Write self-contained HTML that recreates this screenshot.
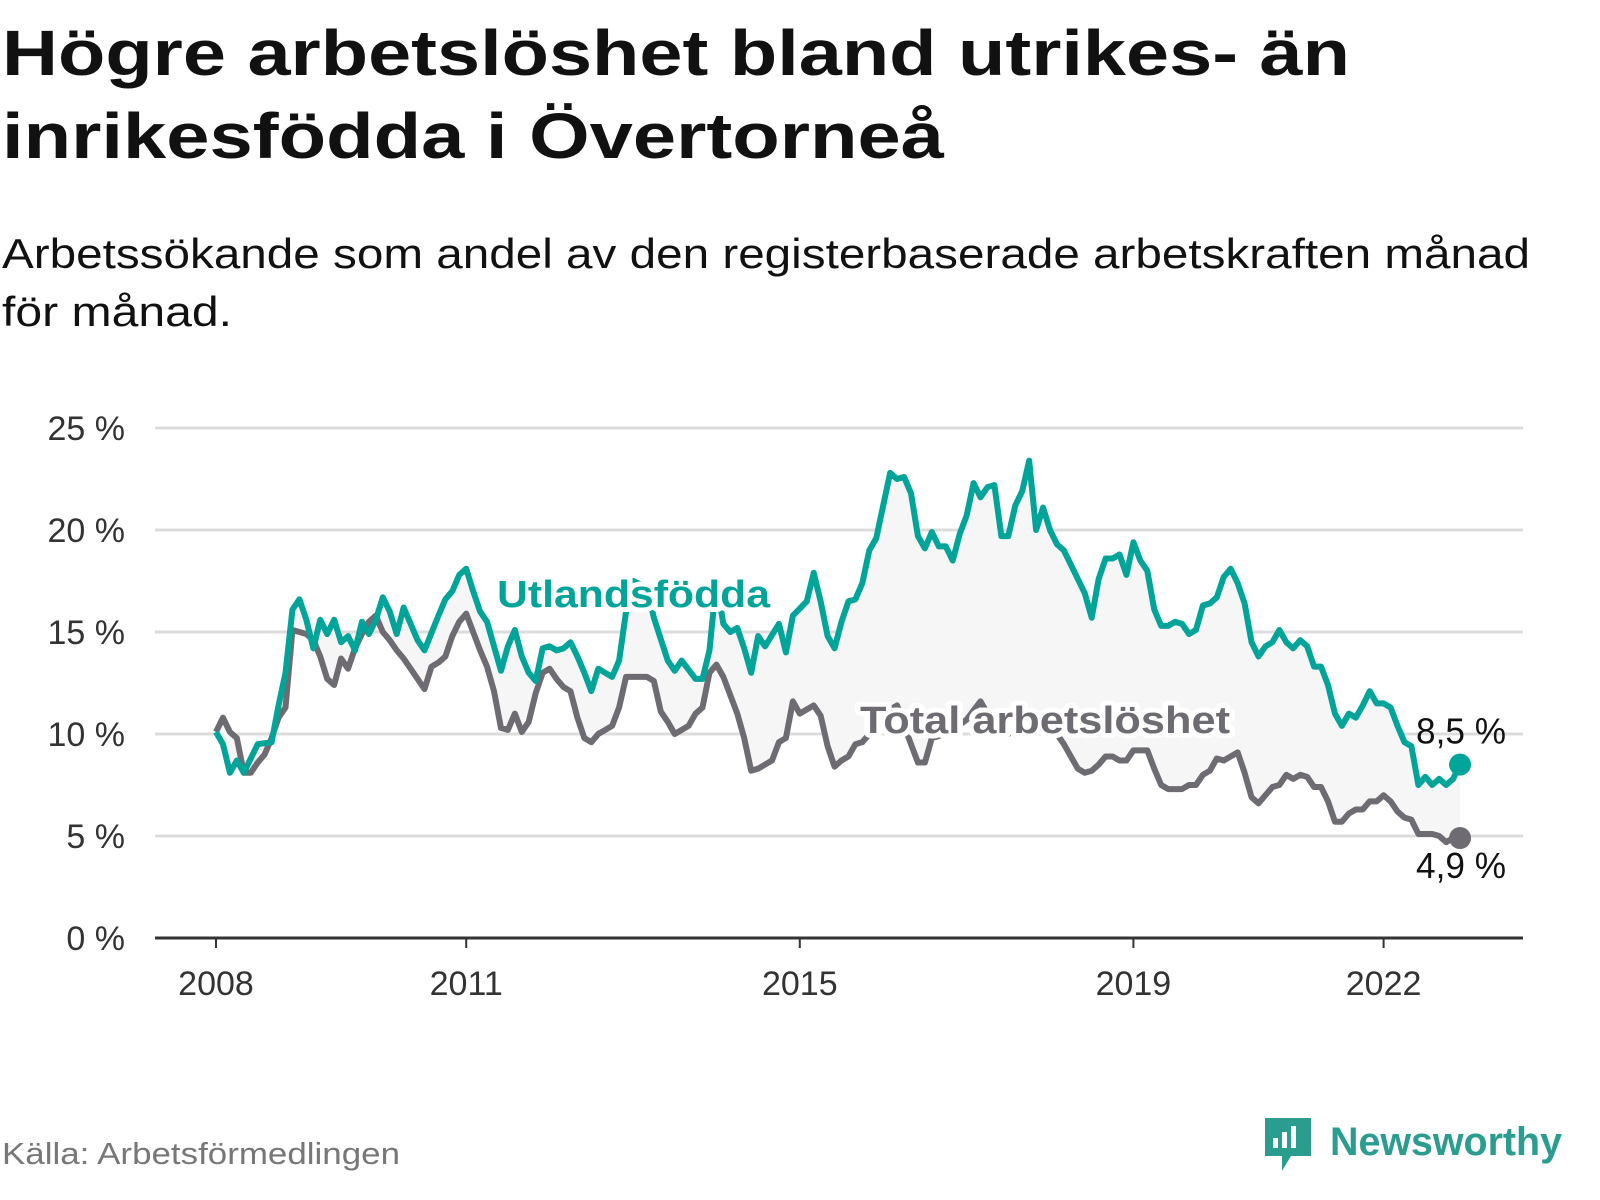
<!DOCTYPE html>
<html><head><meta charset="utf-8">
<style>
body{margin:0;width:1600px;height:1200px;background:#fff;font-family:"Liberation Sans",sans-serif;overflow:hidden;position:relative}
</style></head><body>
<svg id="chart" width="1600" height="1200" style="position:absolute;left:0;top:0" font-family="Liberation Sans, sans-serif">
<text x="2" y="75" font-size="64" font-weight="bold" fill="#111" textLength="1348" lengthAdjust="spacingAndGlyphs">Högre arbetslöshet bland utrikes- än</text>
<text x="2" y="158" font-size="64" font-weight="bold" fill="#111" textLength="942" lengthAdjust="spacingAndGlyphs">inrikesfödda i Övertorneå</text>
<text x="2" y="268" font-size="42" fill="#111" textLength="1528" lengthAdjust="spacingAndGlyphs">Arbetssökande som andel av den registerbaserade arbetskraften månad</text>
<text x="2" y="326" font-size="42" fill="#111" textLength="230" lengthAdjust="spacingAndGlyphs">för månad.</text>
<text x="2" y="1164" font-size="31" fill="#777" textLength="398" lengthAdjust="spacingAndGlyphs">Källa: Arbetsförmedlingen</text>
<g>
<path d="M1265 1118h46v38h-20l-9 15v-15h-17z" fill="#2a9d8f"/>
<rect x="1273" y="1138" width="5" height="10" fill="#fff"/><rect x="1282" y="1132" width="5" height="16" fill="#fff"/><rect x="1291" y="1126" width="5" height="22" fill="#fff"/>
<text x="1330" y="1155" font-size="40" font-weight="bold" fill="#2a9d8f" textLength="232" lengthAdjust="spacingAndGlyphs">Newsworthy</text>
</g>
</svg>
<script>
const yTicks=[0,5,10,15,20,25];
const xTickYears=[2008,2011,2015,2019,2022];
const utlMonths=[0,1,2,3,4,6,8,9,10,11,12,13,14,15,16,17,18,19,20,21,22,23,24,25,26,27,28,29,30,32,33,34,35,36,37,38,39,41,42,43,44,45,46,47,48,49,50,51,52,53,54,55,56,57,58,59,60,62,63,65,66,67,69,70,71,72,73,74,75,76,77,78,79,81,82,83,85,86,87,88,89,90,91,92,93,94,95,96,97,98,99,100,101,102,103,104,105,106,107,108,109,110,111,112,113,114,115,116,117,118,119,120,121,122,123,125,126,127,128,129,130,131,132,133,134,135,136,137,138,139,140,141,142,143,144,145,146,147,148,149,150,151,152,153,154,155,156,157,158,159,160,161,162,163,164,165,166,167,168,169,170,171,172,173,174,175,176,177,178,179];
const utlValues=[10.1,9.5,8.1,8.7,8.1,9.5,9.6,11.4,13.0,16.1,16.6,15.6,14.2,15.6,14.9,15.6,14.5,14.8,14.1,15.5,14.9,15.6,16.7,16.0,14.9,16.2,15.4,14.6,14.1,15.8,16.6,17.0,17.8,18.1,17.0,16.0,15.5,13.1,14.3,15.1,13.8,13.0,12.6,14.2,14.3,14.1,14.2,14.5,13.8,13.0,12.1,13.2,13.0,12.8,13.6,16.0,17.5,17.2,15.7,13.6,13.1,13.6,12.7,12.7,14.1,17.5,15.4,15.0,15.2,14.2,13.0,14.8,14.3,15.4,14.0,15.8,16.5,17.9,16.5,14.8,14.2,15.5,16.5,16.6,17.4,19.0,19.6,21.2,22.8,22.5,22.6,21.8,19.7,19.1,19.9,19.2,19.2,18.5,19.8,20.7,22.3,21.6,22.1,22.2,19.7,19.7,21.2,21.9,23.4,20.0,21.1,20.0,19.3,19.0,18.3,16.9,15.7,17.6,18.6,18.6,18.8,17.8,19.4,18.5,18.0,16.1,15.3,15.3,15.5,15.4,14.9,15.1,16.3,16.4,16.7,17.7,18.1,17.4,16.4,14.5,13.8,14.3,14.5,15.1,14.5,14.2,14.6,14.3,13.3,13.3,12.4,11.0,10.4,11.0,10.8,11.4,12.1,11.5,11.5,11.3,10.4,9.6,9.4,7.5,7.9,7.5,7.8,7.5,7.8,8.5];
const totMonths=[0,1,2,3,4,5,6,7,8,9,10,11,12,13,14,15,16,17,18,19,20,21,22,23,24,25,26,27,28,30,31,32,33,34,35,36,37,38,39,40,41,42,43,44,45,46,47,48,49,50,51,52,53,54,55,56,57,58,59,60,61,62,63,64,65,66,67,68,69,70,71,72,73,74,75,76,77,78,79,80,81,82,83,84,85,86,87,88,89,90,91,92,93,94,95,96,97,98,99,101,102,103,104,106,108,110,111,112,114,115,116,117,119,121,122,123,124,125,126,127,128,129,130,131,132,133,134,135,136,137,138,139,140,141,142,143,144,145,146,147,148,149,150,151,152,153,154,155,156,157,158,159,160,161,162,163,164,165,166,167,168,169,170,171,172,173,174,175,176,177,178,179];
const totValues=[10.1,10.8,10.1,9.8,8.1,8.1,8.6,9.0,9.8,10.8,11.3,15.1,15.0,14.9,14.6,13.8,12.7,12.4,13.7,13.2,14.2,14.9,15.5,15.8,15.0,14.6,14.1,13.7,13.2,12.2,13.3,13.5,13.8,14.8,15.5,15.9,15.0,14.1,13.3,12.1,10.3,10.2,11.0,10.1,10.6,12.0,13.0,13.2,12.7,12.3,12.1,10.8,9.8,9.6,10.0,10.2,10.4,11.3,12.8,12.8,12.8,12.8,12.6,11.1,10.6,10.0,10.2,10.4,11.0,11.3,13.0,13.4,12.8,11.9,11.0,9.8,8.2,8.3,8.5,8.7,9.6,9.8,11.6,11.0,11.2,11.4,10.9,9.4,8.4,8.7,8.9,9.5,9.6,10.0,10.4,10.8,11.2,11.4,10.4,8.6,8.6,9.8,9.9,10.2,10.7,11.6,11.0,10.0,10.0,10.4,10.7,11.0,10.5,10.0,9.5,8.9,8.3,8.1,8.2,8.5,8.9,8.9,8.7,8.7,9.2,9.2,9.2,8.3,7.5,7.3,7.3,7.3,7.5,7.5,8.0,8.2,8.8,8.7,8.9,9.1,8.1,6.9,6.6,7.0,7.4,7.5,8.0,7.8,8.0,7.9,7.4,7.4,6.7,5.7,5.7,6.1,6.3,6.3,6.7,6.7,7.0,6.7,6.2,5.9,5.8,5.1,5.1,5.1,5.0,4.7,4.9,4.9];

const NS='http://www.w3.org/2000/svg';
const svg=document.getElementById('chart');
const X0=155,X1=1523,Y0=938,Y25=428;
function xm(m){return 216+m*83.4/12;}
function xy(yr){return xm((yr-2008)*12);}
function yv(v){return Y0+(Y25-Y0)*v/25;}
function mk(tag,attrs){const e=document.createElementNS(NS,tag);for(const k in attrs)e.setAttribute(k,attrs[k]);svg.appendChild(e);return e;}

yTicks.forEach(t=>{
  if(t>0){const g=mk('line',{x1:X0,x2:X1,y1:yv(t),y2:yv(t),stroke:'#dcdcdc','stroke-width':3});
  
  }
  const l=mk('text',{x:125,y:yv(t)+12,'text-anchor':'end','font-size':34,fill:'#333'});
  l.textContent=t+' %';
  
  
});
const ax=mk('line',{x1:X0,x2:X1,y1:Y0,y2:Y0,stroke:'#333','stroke-width':3});


xTickYears.forEach(yr=>{
  const x=xy(yr);
  const tk=mk('line',{x1:x,x2:x,y1:Y0,y2:Y0+10,stroke:'#333','stroke-width':2});
  
  
  const l=mk('text',{x:x,y:995,'text-anchor':'middle','font-size':34,fill:'#333'});
  l.textContent=yr;
  
  
});
let area=utlMonths.map((m,i)=>xm(m)+','+yv(utlValues[i]));
for(let i=totMonths.length-1;i>=0;i--)area.push(xm(totMonths[i])+','+yv(totValues[i]));
const ar=mk('polygon',{points:area.join(' '),fill:'#f6f6f6'});



const tl=mk('polyline',{points:totMonths.map((m,i)=>xm(m)+','+yv(totValues[i])).join(' '),fill:'none',stroke:'#6e6c72','stroke-width':6,'stroke-linejoin':'round'});


const ul=mk('polyline',{points:utlMonths.map((m,i)=>xm(m)+','+yv(utlValues[i])).join(' '),fill:'none',stroke:'#00a499','stroke-width':6,'stroke-linejoin':'round'});



function lab(txt,x,y,w,fill,name){
  const t=mk('text',{x:x,y:y,'font-size':38,'font-weight':'bold',fill:fill,textLength:w,lengthAdjust:'spacingAndGlyphs',stroke:'#fff','stroke-width':10,'paint-order':'stroke','stroke-linejoin':'round'});
  t.textContent=txt;
  
  
}
lab('Utlandsfödda',497,607,273,'#00a499','utlandsfodda-label');
lab('Total arbetslöshet',860,733,370,'#6e6c72','total-label');

const lastU=utlValues[utlValues.length-1], lastT=totValues[totValues.length-1];
const lm=utlMonths[utlMonths.length-1];
const d1=mk('circle',{cx:xm(lm),cy:yv(lastU),r:11,fill:'#00a499'});


const d2=mk('circle',{cx:xm(lm),cy:yv(lastT),r:11,fill:'#6e6c72'});


function fmt(v){return v.toFixed(1).replace('.',',')+' %';}
const e1=mk('text',{x:1416,y:yv(lastU)-21,'font-size':36,fill:'#111',textLength:90,lengthAdjust:'spacingAndGlyphs'});
e1.textContent=fmt(lastU);


const e2=mk('text',{x:1416,y:yv(lastT)+40,'font-size':36,fill:'#111',textLength:90,lengthAdjust:'spacingAndGlyphs'});
e2.textContent=fmt(lastT);


</script>
</body></html>
